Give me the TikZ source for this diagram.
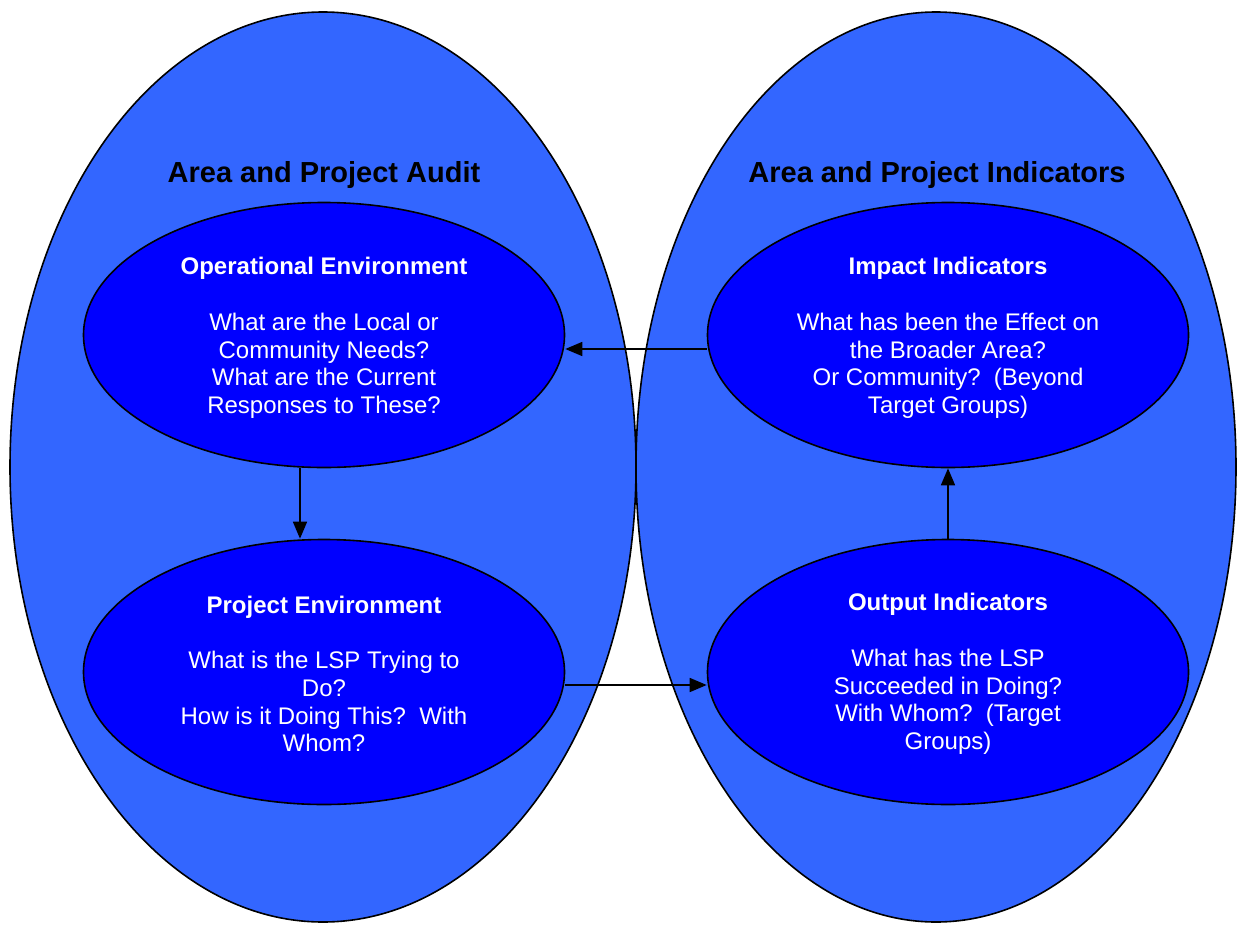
\documentclass[tikz,border=0pt]{standalone}
\usepackage{fontspec}
\setmainfont{Liberation Sans}
\usetikzlibrary{shapes.geometric,arrows.meta}
\definecolor{outerblue}{HTML}{3366FF}
\definecolor{innerblue}{HTML}{0000FF}
\tikzset{
  outer/.style={ellipse,draw=black,line width=1.6pt,fill=outerblue,inner sep=0pt},
  inner/.style={ellipse,draw=black,line width=1.6pt,fill=innerblue,inner sep=0pt,
    minimum width=481pt,minimum height=265pt},
  body/.style={text=white,align=center,inner sep=0pt,
    font=\fontsize{24}{27.7}\selectfont},
  heading/.style={font=\fontsize{29}{34}\selectfont\bfseries,text=black},
  link/.style={line width=1.6pt,-{Triangle[length=17pt,width=14pt]}}
}
\begin{document}
\begin{tikzpicture}[x=1pt,y=-1pt]
\useasboundingbox (0,0) rectangle (1237,924);
% two large areas
\node[outer,minimum width=626pt,minimum height=910pt] (audit) at (323,467) {};
\node[outer,minimum width=600pt,minimum height=910pt] (indic) at (936,467) {};
\node[heading] (auditT) at (324,175) {Area and Project Audit};
\node[heading] (indicT) at (937,175) {Area and Project Indicators};
% inner stages
\node[inner] (oper) at (324,335) {};
\node[inner] (proj) at (324,672) {};
\node[inner] (impact) at (948,335) {};
\node[inner] (output) at (948,672) {};
\node[body] (operT) at (324,338) {\textbf{Operational Environment}\\[27.7pt]What are the Local or\\Community Needs?\\What are the Current\\Responses to These?};
\node[body] (projT) at (324,674) {\textbf{Project Environment}\\[27.7pt]What is the LSP Trying to\\Do?\\How is it Doing This?\ \ With\\Whom?};
\node[body] (impactT) at (948,338) {\textbf{Impact Indicators}\\[27.7pt]What has been the Effect on\\the Broader Area?\\Or Community?\ \ (Beyond\\Target Groups)};
\node[body] (outputT) at (948,674) {\textbf{Output Indicators}\\[27.7pt]What has the LSP\\Succeeded in Doing?\\With Whom?\ \ (Target\\Groups)};
% flow between stages
\draw[link] ([xshift=-24pt]oper.south) -- ([xshift=-24pt]proj.north);
\draw[link] ([yshift=-13pt]proj.east) -- ([yshift=-13pt]output.west);
\draw[link] (output.north) -- (impact.south);
\draw[link] ([yshift=-14pt]impact.west) -- ([yshift=-14pt]oper.east);
\end{tikzpicture}
\end{document}
